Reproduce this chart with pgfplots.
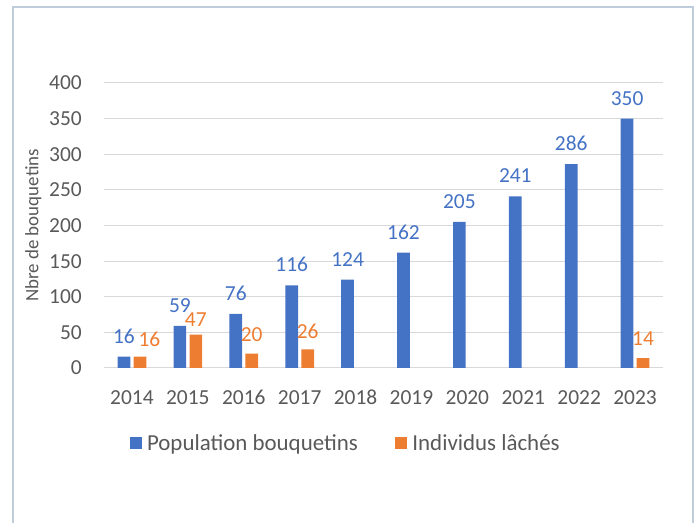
\documentclass[border=0pt]{standalone}
\usepackage{fontspec}
\setmainfont{Carlito}
\usepackage{pgfplots}
\usepackage{pgfplotstable}
\pgfplotsset{compat=1.18}
\definecolor{cblue}{HTML}{4472C4}
\definecolor{corange}{HTML}{ED7D31}
\definecolor{ctext}{HTML}{595959}
\definecolor{cgrid}{HTML}{D9D9D9}
\definecolor{cborder}{RGB}{190,204,220}

\pgfplotstableread{
x y dx dy
0 16 -8 13.5
1 59 -8 13.5
2 76 -8 13.5
3 116 -8 13.5
4 124 -8 13.5
5 162 -8 13.5
6 205 -8 13.5
7 241 -8 13.5
8 286 -8 13.5
9 350 -8 13.5
}\popdata

\pgfplotstableread{
x y dx dy
0 16 17.5 10
1 47 8 7.8
2 20 8 12
3 26 8 11.2
9 14 8 13
}\lachedata

\begin{document}
\begin{tikzpicture}
\useasboundingbox (0,0) rectangle (700bp,523bp);
\draw[cborder, line width=1.3bp] (13bp,-20bp) -- (13bp,516bp) -- (693bp,516bp) -- (693bp,-20bp);
\begin{axis}[
  at={(104bp,155bp)}, anchor=south west,
  scale only axis, width=559bp, height=285bp,
  xmin=-0.5, xmax=9.5, ymin=0, ymax=400,
  ytick={0,50,...,400},
  xtick={0,1,2,3,4,5,6,7,8,9},
  xticklabels={2014,2015,2016,2017,2018,2019,2020,2021,2022,2023},
  axis line style={draw=none},
  major tick length=0pt,
  ymajorgrids, grid style={cgrid, line width=1bp},
  /pgf/number format/assume math mode=true,
  ticklabel style={font=\fontsize{21.5}{24}\selectfont, text=ctext, inner sep=0pt},
  yticklabel style={anchor=east, xshift=-22bp},
  xticklabel style={anchor=base, yshift=-37bp},
  ylabel={Nbre de bouquetins},
  every axis y label/.style={at={(axis description cs:-0.1172,0.5)}, rotate=90, anchor=base, font=\fontsize{19}{22}\selectfont, text=ctext},
  legend columns=2,
  legend cell align=left,
  legend image code/.code={\fill[#1] (0bp,-5.5bp) rectangle (12.5bp,7bp);},
  legend style={at={(axis description cs:0.0453,-0.265)}, anchor=west, draw=none, fill=none,
    inner sep=0pt, column sep=5bp,
    font=\fontsize{23}{26}\selectfont, text=ctext,
    nodes={inner sep=0pt},
    /tikz/every even column/.append style={column sep=37bp}},
]
\addplot[ybar, bar width=12.7bp, bar shift=-8bp, fill=cblue, draw=none,
  visualization depends on={\thisrow{dx} \as \dx},
  visualization depends on={\thisrow{dy} \as \dy},
  nodes near coords,
  every node near coord/.append style={anchor=base, inner sep=0pt, font=\fontsize{21.5}{24}\selectfont, xshift=\dx, yshift=\dy, text=cblue}] table[x=x,y=y] {\popdata};
\addplot[ybar, bar width=12.7bp, bar shift=8bp, fill=corange, draw=none,
  visualization depends on={\thisrow{dx} \as \dx},
  visualization depends on={\thisrow{dy} \as \dy},
  nodes near coords,
  every node near coord/.append style={anchor=base, inner sep=0pt, font=\fontsize{21.5}{24}\selectfont, xshift=\dx, yshift=\dy, text=corange}] table[x=x,y=y] {\lachedata};
\legend{Population bouquetins, Individus lâchés}
\end{axis}
\end{tikzpicture}
\end{document}
